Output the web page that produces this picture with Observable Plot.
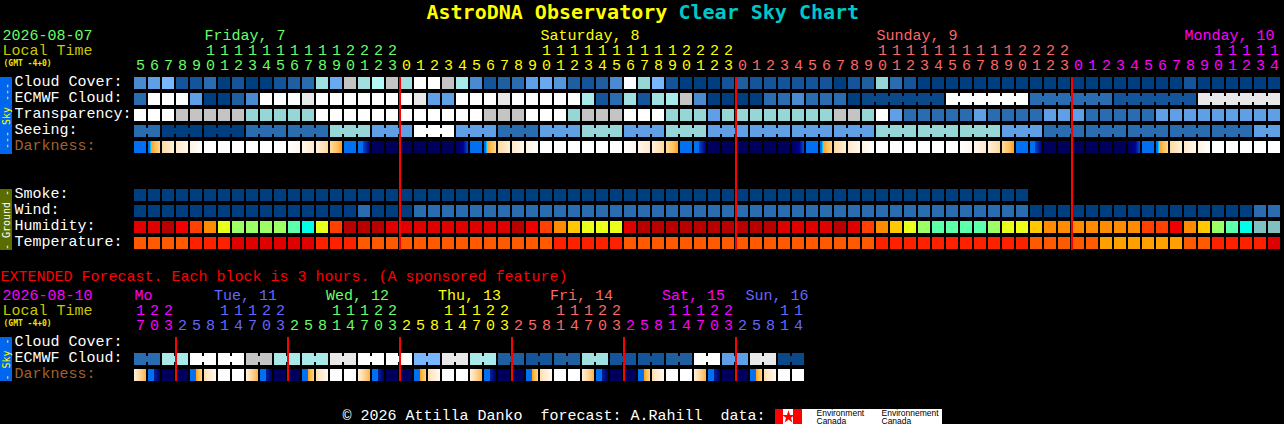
<!DOCTYPE html>
<html><head><meta charset="utf-8">
<script src="https://cdn.jsdelivr.net/npm/d3@7"></script>
<script src="https://cdn.jsdelivr.net/npm/@observablehq/plot@0.6"></script>
<style>html,body{margin:0;padding:0;background:#000;overflow:hidden}text{white-space:pre}svg{display:block}</style>
</head><body><div id="chart"></div><script>
// ---------- data: main 1-hour forecast ----------
const mainHours = [5,6,7,8,9,10,11,12,13,14,15,16,17,18,19,20,21,22,23,
 0,1,2,3,4,5,6,7,8,9,10,11,12,13,14,15,16,17,18,19,20,21,22,23,
 0,1,2,3,4,5,6,7,8,9,10,11,12,13,14,15,16,17,18,19,20,21,22,23,
 0,1,2,3,4,5,6,7,8,9,10,11,12,13,14];
const mainDays = ["Friday, 7","Saturday, 8","Sunday, 9","Monday, 10"];
const mainDayStarts = [0,19,43,67];
const mainDayLabelCols = [5,29,53,75];
const mainDayColors = ["#66ff66","#ffff00","#ff6666","#ff00ff"];
const midnightCols = [19,43,67];

const cloudCover = [70,60,50,90,90,80,100,90,100,100,90,85,80,38,55,20,38,30,20,38,0,
 0,20,35,70,90,85,80,60,55,65,85,90,85,70,0,40,50,90,100,100,100,90,85,90,90,90,90,90,90,100,90,
 85,40,80,90,100,100,100,100,100,100,100,100,100,100,100,100,100,100,100,100,100,100,100,90,100,100,100,100,100,100];
const ecmwfCloud = [80,0,0,0,60,100,100,85,70,0,0,0,10,0,0,0,0,0,0,0,10,
 60,60,0,0,0,10,0,0,0,0,0,35,90,80,38,90,38,35,20,70,100,100,100,100,80,80,70,80,80,80,100];
const ecmwfSixHourly = [95,0,80,90,10];
const transparency = [0,0,0,20,20,20,20,20,40,40,40,40,40,0,0,0,0,0,0,0,0,0,0,0,0,20,20,20,0,0,0,40,20,20,20,0,0,0,
 40,40,40,60,40,40,40,40,40,40,40,40,20,20,40,0,60,80,80,80,80,80,60,80,80,80,80,60,60,60,80,80,80,80,80,60,60,60,60,60,60,60,60,60];
const seeing = [80,100,100,80,80,40,60,0,60,80,60,40,60,40,60,60,60,60,40,40,40,60,80,80,80,80,80,60];
const seeingSpans = [2,3,3,3,3,3,3,3,3,3,3,3,3,3,3,3,3,3,3,3,3,3,3,3,3,3,3,2];
const darkness = ["blue","dawn","c1","c2","c3","w","w","w","w","w","w","f1","f2","f3","dusk","blue","bn","n","n","n","n","n","n",
 "nb","blue","dawn","c1","c2","c3","w","w","w","w","w","w","f1","f2","f3","dusk","blue","bn","n","n","n","n","n","n",
 "nb","blue","dawn","c1","c2","c3","w","w","w","w","w","w","f1","f2","f3","dusk","blue","bn","n","n","n","n","n","n",
 "nb","blue","dawn","c1","c2","c3","w","w","w","w","w"];
const smoke = [100,100,100,100,100,100,100,100,100,100,100,100,100,100,100,100,100,100,100,100,100,100,100,100,100,100,100,100,100,100,100,100,
 100,100,100,100,100,100,100,100,100,100,100,100,100,100,100,100,100,100,100,100,100,100,100,100,100,100,100,100,100,100,100,100];
const wind = [100,100,100,100,100,100,100,100,100,100,100,100,100,100,100,100,80,100,100,100,80,
 80,80,80,80,80,80,80,80,80,80,80,80,80,80,80,80,80,80,80,80,80,80,80,80,80,80,80,80,80,80,80,80,80,80,80,80,80,80,80,80,80,80,80,
 100,100,100,100,100,100,100,100,100,100,100,100,100,100,100,100,80,80];
const humidity = [85,85,90,80,75,70,60,55,55,55,55,50,45,60,75,90,90,90,85,85,85,
 85,85,85,85,85,85,90,80,75,70,65,60,60,60,85,90,90,90,90,90,90,90,90,90,90,85,85,85,85,90,85,
 75,70,65,60,55,50,50,50,50,55,60,60,65,70,70,70,70,70,70,70,75,75,80,70,65,55,50,45,40,40];
const temperature = [24,24,24,24,27,27,27,30,30,30,30,30,30,27,27,27,24,24,24,24,24,
 24,24,24,24,24,24,24,24,24,27,27,27,27,27,24,24,24,24,24,24,24,24,24,24,24,24,24,24,24,24,24,
 24,27,27,27,27,27,27,27,27,27,27,27,24,24,24,24,24,21,21,21,21,21,21,24,24,27,27,27,27,30];

// ---------- data: extended 3-hour forecast ----------
const extHours = [17,20,23,2,5,8,11,14,17,20,23,2,5,8,11,14,17,20,23,2,5,8,11,14,17,20,23,2,5,8,11,14,17,20,23,2,5,8,11,14,17,20,23,2,5,8,11,14];
const extDays = ["Mo","Tue, 11","Wed, 12","Thu, 13","Fri, 14","Sat, 15","Sun, 16"];
const extDayStarts = [0,3,11,19,27,35,43];
const extDayLabelCols = [0,5.68,13.68,21.68,29.68,37.68,43.64];
const extDayColors = ["#ff00ff","#6666ff","#66ff66","#ffff00","#ff6666","#ff00ff","#6666ff"];
const extMidnightCols = [3,11,19,27,35,43];
const extEcmwf = [80,35,0,0,20,35,35,10,0,0,50,10,35,85,90,85,38,90,90,85,0,60,10,95];
const extDarkness = ["xdusk","xnight","n","n","xdawn","xcream","w","w","xdusk","xnight","n","n","xdawn","xcream","w","w",
 "xdusk","xnight","n","n","xdawn","xcream","w","w","xdusk","xnight","n","n","xdawn","xcream","w","w",
 "xdusk","xnight","n","n","xdawn","xcream","w","w","xdusk","xnight","n","n","xdawn","xcream","w","w"];

// ---------- labels ----------
const skyLabels = ["Cloud Cover:","ECMWF Cloud:","Transparency:","Seeing:","Darkness:"];
const groundLabels = ["Smoke:","Wind:","Humidity:","Temperature:"];
const extLabels = ["Cloud Cover:","ECMWF Cloud:","Darkness:"];

// ---------- colour keys ----------
const skyColors = {100:"#003f7f",95:"#0a4888",90:"#14549a",85:"#1f5f9f",80:"#2a6cb0",70:"#4a8ad0",65:"#5595dc",60:"#5f9fe6",55:"#6aa8f0",50:"#78b6ff",
 40:"#96d6d6",38:"#a0e0e0",35:"#a8eaea",30:"#b4f8f8",20:"#c4c4c4",10:"#e8e8e8",0:"#ffffff"};
const humidityColors = {40:"#80c0c0",45:"#00ffe8",50:"#5cffaa",55:"#9cff66",60:"#eaff1a",65:"#ffc800",70:"#ff8c00",75:"#ff4000",80:"#f00000",85:"#e00000",90:"#b80000"};
const temperatureColors = {21:"#ffa000",24:"#ff5a00",27:"#ff2000",30:"#e00000"};
const darknessStops = {
 blue:[[0,"#0070f0"],[1,"#0070f0"]],
 dawn:[[0,"#0070f0"],[.14,"#0070f0"],[.15,"#00c0ff"],[.27,"#00c8ff"],[.28,"#ffa020"],[.55,"#ffb850"],[1,"#ffd890"]],
 c1:[[0,"#ffd8a0"],[1,"#fff0dc"]], c2:[[0,"#ffe8cc"],[1,"#fff8ee"]], c3:[[0,"#fff2e0"],[1,"#ffffff"]],
 w:[[0,"#ffffff"],[1,"#ffffff"]],
 f1:[[0,"#ffffff"],[1,"#fff6ea"]], f2:[[0,"#fff8ee"],[1,"#ffe8cc"]], f3:[[0,"#fff0dc"],[1,"#ffd8a0"]],
 dusk:[[0,"#ffdc9c"],[.6,"#ffc060"],[1,"#ffa020"]],
 bn:[[0,"#0070f0"],[.42,"#0070f0"],[.45,"#0040c0"],[.72,"#0020a0"],[1,"#000080"]],
 nb:[[0,"#000060"],[.6,"#000090"],[1,"#0050d0"]],
 n:[[0,"#00005c"],[1,"#00005c"]],
 xdusk:[[0,"#fff0dc"],[.6,"#ffd090"],[1,"#ffb040"]],
 xnight:[[0,"#0070f0"],[.48,"#0070f0"],[.5,"#0020a0"],[1,"#000060"]],
 xdawn:[[0,"#0070f0"],[.48,"#0070f0"],[.5,"#ffa020"],[1,"#ffd890"]],
 xcream:[[0,"#ffe0b0"],[1,"#fffaf4"]]
};

// ---------- layout: pixel to scale helpers ----------
const colAt = px => (px - 134) / 14;
const rowAt = px => (px - 77) / 16;
const W = 1284, H = 424, BLOCK_W = 12/14, BLOCK_H = 12/16;
const R = {cloud:0,ecmwf:1,trans:2,seeing:3,dark:4,smoke:7,wind:8,hum:9,temp:10,xEcmwf:rowAt(353),xDark:rowAt(369)};

const series = (r, values, palette) => values.map((v,i) => ({c:i, r, fill:palette[v]}));
const spanned = (r, values, spans, palette, start=0) => {
  const cells=[], links=[]; let c=start;
  values.forEach((v,g) => {
    for (let k=0;k<spans[g];k++) cells.push({c:c+k, r, fill:palette[v]});
    links.push({c, n:spans[g], r, fill:palette[v]});
    c+=spans[g];
  });
  return {cells, links};
};
const darkCells = (r, arr) => arr.map((t,i) => ({c:i, r, fill:`url(#dk-${t})`}));

const seeingS = spanned(R.seeing, seeing, seeingSpans, skyColors);
const ecmwfS = spanned(R.ecmwf, ecmwfSixHourly, [6,6,6,6,6], skyColors, 52);
const xEcmwfS = spanned(R.xEcmwf, extEcmwf, extEcmwf.map(()=>2), skyColors);

const cells = [
  ...series(R.cloud, cloudCover, skyColors),
  ...series(R.ecmwf, ecmwfCloud, skyColors), ...ecmwfS.cells,
  ...series(R.trans, transparency, skyColors),
  ...seeingS.cells,
  ...darkCells(R.dark, darkness),
  ...series(R.smoke, smoke, skyColors),
  ...series(R.wind, wind, skyColors),
  ...series(R.hum, humidity, humidityColors),
  ...series(R.temp, temperature, temperatureColors),
  ...xEcmwfS.cells,
  ...darkCells(R.xDark, extDarkness)
];
const links = [...seeingS.links, ...ecmwfS.links, ...xEcmwfS.links];

const colorFor = (i, starts, colors) => colors[d3.bisectRight(starts, i) - 1];
const hourTable = (hours, starts, colors) => hours.map((h,i) => ({c:i, h, fill:colorFor(i,starts,colors)}));
const mainT = hourTable(mainHours, mainDayStarts, mainDayColors);
const extT = hourTable(extHours, extDayStarts, extDayColors);

const MONO = "'Liberation Mono', monospace";
const BOLD = "'DejaVu Sans Mono', monospace";
const fixed = (s, px, py, o={}) => Plot.text([s], {x:()=>colAt(px), y:()=>rowAt(py), text:d=>d, textAnchor:"start", lineAnchor:"bottom", fontSize:15, fontFamily:MONO, dy:-1, ...o});
const hourMarks = (table, yOnes, yTens) => [
  Plot.text(table, {x:d=>d.c+6/14, y:()=>rowAt(yOnes), text:d=>String(d.h%10), fill:"fill", fontSize:15, fontFamily:MONO, lineAnchor:"bottom", dy:-1}),
  Plot.text(table.filter(d=>d.h>=10), {x:d=>d.c+6/14, y:()=>rowAt(yTens), text:d=>String(Math.floor(d.h/10)), fill:"fill", fontSize:15, fontFamily:MONO, lineAnchor:"bottom", dy:-1})
];
const labelMarks = (labels, rows, colors) => labels.map((l,i) => fixed(l, 14, 0, {y:()=>rows[i]+9/16, fill:colors[i]}));
const sideBar = (y1, y2, bg, fg, text) => [
  Plot.rect([0], {x1:()=>colAt(0), x2:()=>colAt(12), y1:()=>rowAt(y1), y2:()=>rowAt(y2), fill:bg, shapeRendering:"crispEdges"}),
  Plot.text([text], {x:()=>colAt(6), y:()=>rowAt((y1+y2)/2), text:d=>d, rotate:-90, fontSize:10, fontFamily:BOLD, fill:fg})
];
const box = (x1,x2,y1,y2,fill) => Plot.rect([0], {x1:()=>colAt(x1), x2:()=>colAt(x2), y1:()=>rowAt(y1), y2:()=>rowAt(y2), fill, shapeRendering:"crispEdges"});

const gradients = () => {
  const defs = d3.create("svg:defs");
  for (const [id, stops] of Object.entries(darknessStops)) {
    const g = defs.append("linearGradient").attr("id", `dk-${id}`);
    for (const [o,c] of stops) g.append("stop").attr("offset", o).attr("stop-color", c);
  }
  return defs.node();
};

const chart = Plot.plot({
  width:W, height:H, margin:0,
  style:{background:"#000", color:"#fff", fontFamily:MONO},
  x:{domain:[colAt(0), colAt(W)], range:[0,W], axis:null},
  y:{domain:[rowAt(0), rowAt(H)], range:[0,H], axis:null},
  color:{type:"identity"},
  marks:[
    gradients,
    // title
    fixed("AstroDNA Observatory",426,18,{fontSize:20,fontFamily:BOLD,fontWeight:"bold",fill:"#ffff00",dy:0}),
    fixed("Clear Sky Chart",678,18,{fontSize:20,fontFamily:BOLD,fontWeight:"bold",fill:"#00c8c8",dy:0}),
    // header, main
    fixed("2026-08-07",2,40,{fill:"#66ff66"}),
    fixed("Local Time",2,55,{fill:"#c8c800"}),
    fixed("(GMT -4+0)",3,65,{fontSize:8,fontFamily:BOLD,fontWeight:"bold",fill:"#e8e800",dy:0}),
    ...mainDays.map((s,i)=>fixed(s,134+14*mainDayLabelCols[i],40,{fill:mainDayColors[i]})),
    ...hourMarks(mainT,70,55),
    // blocks
    Plot.rect(cells,{x1:"c",x2:d=>d.c+BLOCK_W,y1:"r",y2:d=>d.r+BLOCK_H,fill:"fill",shapeRendering:"crispEdges"}),
    Plot.rect(links,{x1:"c",x2:d=>d.c+d.n-1+BLOCK_W,y1:d=>d.r+3/16,y2:d=>d.r+9/16,fill:"fill",shapeRendering:"crispEdges"}),
    // midnight rules
    Plot.ruleX(midnightCols,{x:d=>d,y1:()=>rowAt(77),y2:()=>rowAt(250),stroke:"#ff0000",strokeWidth:2,dx:-0.5,shapeRendering:"crispEdges"}),
    Plot.ruleX(extMidnightCols,{x:d=>d,y1:()=>rowAt(337),y2:()=>rowAt(381),stroke:"#ff0000",strokeWidth:2,dx:-0.5,shapeRendering:"crispEdges"}),
    // row labels and side bars
    ...labelMarks(skyLabels,[R.cloud,R.ecmwf,R.trans,R.seeing,R.dark],["#fff","#fff","#fff","#fff","#a0602e"]),
    ...labelMarks(groundLabels,[R.smoke,R.wind,R.hum,R.temp],["#fff","#fff","#fff","#fff"]),
    ...sideBar(77,154,"#0066f0","#ffff00","--- Sky ---"),
    ...sideBar(189,250,"#5a6e00","#ffffff","- Ground -"),
    // extended
    fixed("EXTENDED Forecast. Each block is 3 hours. (A sponsored feature)",0,281,{fill:"#ff0000"}),
    fixed("2026-08-10",2,300,{fill:"#ff00ff"}),
    fixed("Local Time",2,315,{fill:"#c8c800"}),
    fixed("(GMT -4+0)",3,325,{fontSize:8,fontFamily:BOLD,fontWeight:"bold",fill:"#e8e800",dy:0}),
    ...extDays.map((s,i)=>fixed(s,134+14*extDayLabelCols[i],300,{fill:extDayColors[i]})),
    ...hourMarks(extT,330,315),
    ...labelMarks(extLabels,[rowAt(337),R.xEcmwf,R.xDark],["#fff","#fff","#a0602e"]),
    ...sideBar(337,381,"#0066f0","#ffff00","- Sky -"),
    // footer
    fixed("© 2026 Attilla Danko  forecast: A.Rahill  data:",342,420.5,{fill:"#ffffff"}),
    box(775,942,409,424,"#ffffff"),
    box(775,783,409,424,"#ff0000"),
    box(793,802,409,424,"#ff0000"),
    Plot.dot([0],{x:()=>colAt(788),y:()=>rowAt(416.5),symbol:"star",r:4,fill:"#ff0000"}),
    ...[["Environment",816],["Canada",816],["Environnement",881],["Canada",881]].map(([s,x],i)=>
      fixed(s,x,i%2?423:415.5,{fontSize:8.5,fontFamily:"'Liberation Sans',sans-serif",fill:"#000",dy:0}))
  ]
});
document.getElementById("chart").append(chart);
</script></body></html>
